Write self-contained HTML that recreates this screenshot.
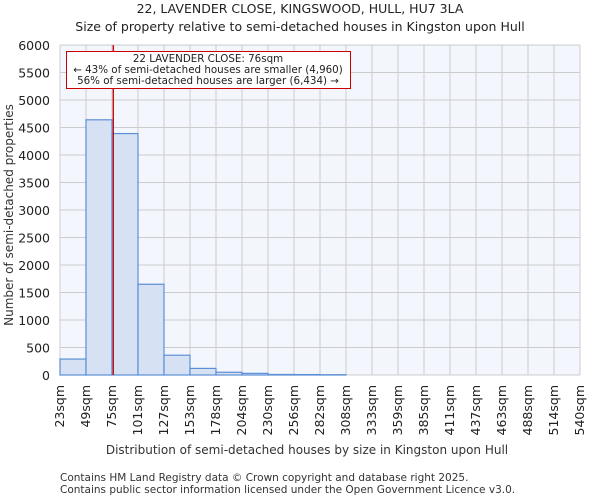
<!DOCTYPE html>
<html><head><meta charset="utf-8"><style>
body{margin:0;background:#fff;font-family:"DejaVu Sans","Liberation Sans",sans-serif;}
</style></head><body>
<svg width="600" height="500" xmlns="http://www.w3.org/2000/svg" font-family="DejaVu Sans, Liberation Sans, sans-serif">
<text x="300" y="13" text-anchor="middle" font-size="12.5" fill="#222">22, LAVENDER CLOSE, KINGSWOOD, HULL, HU7 3LA</text>
<text x="300" y="31" text-anchor="middle" font-size="12.5" fill="#222">Size of property relative to semi-detached houses in Kingston upon Hull</text>
<rect x="60" y="45" width="520" height="330" fill="#f3f6fd"/>
<g id="grid"></g><g id="bars"></g><g id="axes"></g>
<text transform="translate(13,215) rotate(-90)" text-anchor="middle" font-size="12" fill="#333">Number of semi-detached properties</text>
<text x="307" y="454" text-anchor="middle" font-size="12" fill="#333">Distribution of semi-detached houses by size in Kingston upon Hull</text>
<text x="60" y="481" font-size="10.5" fill="#333">Contains HM Land Registry data © Crown copyright and database right 2025.</text>
<text x="60" y="493" font-size="10.5" fill="#333">Contains public sector information licensed under the Open Government Licence v3.0.</text>
<line id="marker" y1="45" y2="375" stroke="#c00" stroke-width="1.3"/>
<g>
<rect x="66.5" y="51.5" width="284" height="37" fill="#fff" stroke="#c00" stroke-width="1"/>
<text x="208" y="62" text-anchor="middle" font-size="10.3" fill="#222">22 LAVENDER CLOSE: 76sqm</text>
<text x="208" y="73" text-anchor="middle" font-size="10.3" fill="#222">← 43% of semi-detached houses are smaller (4,960)</text>
<text x="208" y="84" text-anchor="middle" font-size="10.3" fill="#222">56% of semi-detached houses are larger (6,434) →</text>
</g>
</svg>
<script>
const tickLabels=["23sqm","49sqm","75sqm","101sqm","127sqm","153sqm","178sqm","204sqm","230sqm","256sqm","282sqm","308sqm","333sqm","359sqm","385sqm","411sqm","437sqm","463sqm","488sqm","514sqm","540sqm"];
const counts=[290,4640,4390,1650,360,120,50,30,10,8,5,0,0,0,0,0,0,0,0,0];
const yTicks=[0,500,1000,1500,2000,2500,3000,3500,4000,4500,5000,5500,6000];
const propertySize=76;
const NS="http://www.w3.org/2000/svg";
const X0=60,X1=580,Y0=375,Y1=45,YMAX=6000;
const bw=(X1-X0)/counts.length;
const xs=i=>X0+i*bw;
const ys=v=>Y0-(v/YMAX)*(Y0-Y1);
const sizeToX=s=>X0+(s-23)/((540-23)/counts.length)*bw;
function mk(t,a,p){const e=document.createElementNS(NS,t);for(const k in a)e.setAttribute(k,a[k]);p.appendChild(e);return e;}
const grid=document.getElementById('grid'),bars=document.getElementById('bars'),axes=document.getElementById('axes');
yTicks.forEach(v=>{
 const l=mk('line',{x1:X0,x2:X1,y1:ys(v),y2:ys(v),stroke:'#ccc','stroke-width':1},grid);
 
 
 const t=mk('text',{x:X0-10,y:ys(v)+5,'text-anchor':'end','font-size':12.5,fill:'#222'},axes);
 t.textContent=v;
 
 
});
tickLabels.forEach((lab,i)=>{
 const x=xs(i);
 const l=mk('line',{x1:x,x2:x,y1:Y1,y2:Y0,stroke:'#ccc','stroke-width':1},grid);
 
 
 const t=mk('text',{x:0,y:0,'text-anchor':'end','font-size':12.5,fill:'#222',transform:`translate(${x+4},${Y0+10}) rotate(-90)`},axes);
 t.textContent=lab;
 
 
});
counts.forEach((c,i)=>{
 if(c<=0)return;
 const r=mk('rect',{x:xs(i),y:ys(c),width:bw,height:Y0-ys(c),fill:'#d6e2f3',stroke:'#5b8fd6','stroke-width':1.2},bars);
 
 
});
const m=document.getElementById('marker');
m.setAttribute('x1',sizeToX(propertySize));m.setAttribute('x2',sizeToX(propertySize));
</script>
</body></html>
